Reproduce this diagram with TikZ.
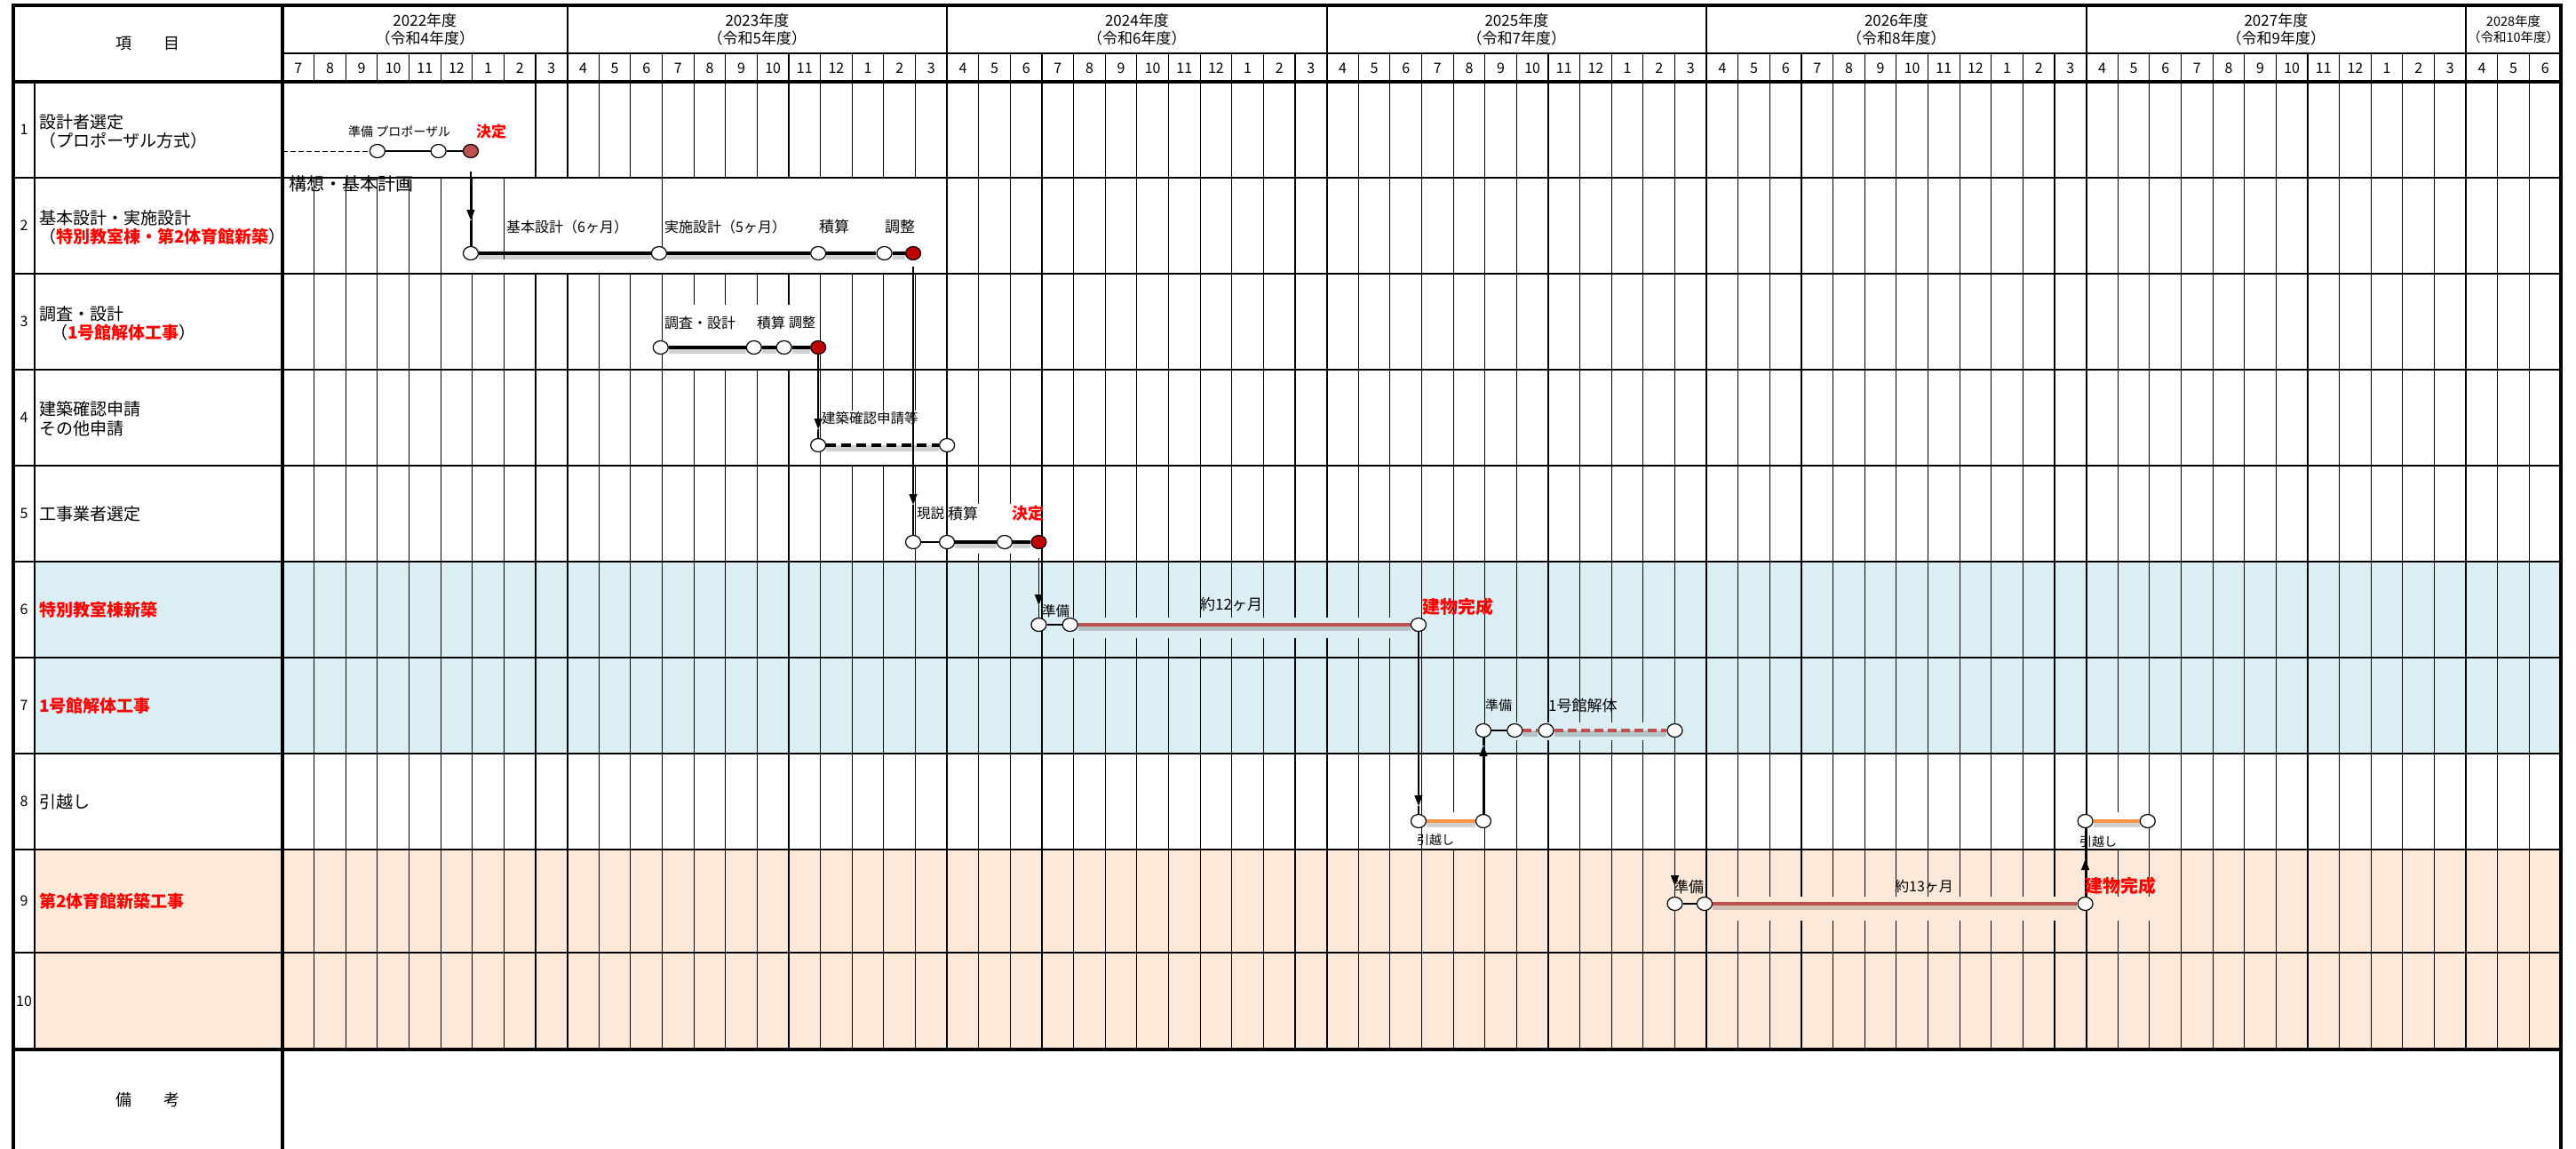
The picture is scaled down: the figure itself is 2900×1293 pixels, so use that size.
\documentclass[tikz,border=0pt]{standalone}
\usepackage{fontspec}
\setmainfont{Noto Sans CJK JP}
\usetikzlibrary{shapes.geometric,arrows.meta}
\pgfdeclarelayer{grid}
\pgfdeclarelayer{bars}
\pgfsetlayers{grid,bars,main}

\definecolor{rowblue}{HTML}{DAEEF3}
\definecolor{rowpeach}{HTML}{FCE9DA}
\definecolor{barred}{HTML}{C0504D}
\definecolor{dotred}{HTML}{C00000}
\definecolor{moveorange}{HTML}{F79646}
\definecolor{textred}{HTML}{FF0000}

% x position of month m, counted from the start of July 2022
\newcommand{\monthx}[1]{318+35.625*(#1)}
\newcommand{\fsz}[1]{\fontsize{#1}{#1}\selectfont}
\newcommand{\hl}[1]{{\color{textred}\bfseries #1}}

\tikzset{
  monthline/.style={line width=1.1pt},
  yearline/.style={line width=2.2pt},
  rowline/.style={line width=1.1pt},
  boldrule/.style={line width=3.5pt},
  midrule/.style={line width=2.6pt},
  ms/.style={ellipse, draw=black, line width=1.2pt, fill=white,
    minimum width=17pt, minimum height=15pt, inner sep=0pt},
  msred/.style={ms, fill=dotred},
  msbrown/.style={ms, fill=barred},
  lbl/.style={anchor=west, inner sep=0pt, font=\fsz{#1}},
  lbl/.default=16,
  redlbl/.style={anchor=west, inner sep=0pt, text=textred, font=\fsz{#1}\bfseries},
  redlbl/.default=20,
  rowlbl/.style={anchor=west, inner sep=0pt, align=left, font=\fontsize{19}{21.5}\selectfont},
  numlbl/.style={inner sep=0pt, font=\fsz{16}},
  monthlbl/.style={inner sep=0pt, font=\fsz{16}},
  yearlbl/.style={inner sep=0pt, align=center, font=\fontsize{17}{20}\selectfont},
  barshadow/.style={preaction={draw=black, draw opacity=0.18, line width=7pt,
    transform canvas={yshift=-3pt}}},
  thinbar/.style={line width=1.3pt},
  blackbar/.style={barshadow, line width=3.6pt},
  blackdash/.style={blackbar, dash pattern=on 11pt off 6pt},
  redbar/.style={barshadow, line width=4pt, draw=barred},
  reddash/.style={redbar, dash pattern=on 10pt off 5pt},
  orangebar/.style={barshadow, line width=4.5pt, draw=moveorange},
  arrowline/.style={line width=1.4pt, -{Triangle[length=12pt,width=9pt]}},
  plainline/.style={line width=1.4pt},
}

\begin{document}
\begin{tikzpicture}[x=1pt,y=-1pt]
\useasboundingbox (0,0) rectangle (2900,1293);

\begin{pgfonlayer}{grid}
  \fill[white] (0,0) rectangle (2900,1293);
  \fill[rowblue] (39,632) rectangle (2883,848);
  \fill[rowpeach] (39,956) rectangle (2883,1181);
  % month columns
  \foreach \m in {1,...,71}
    \draw[monthline] ({\monthx{\m}},60) -- ({\monthx{\m}},1181);
  % fiscal year boundaries
  \foreach \m in {9,21,33,45,57,69}
    \draw[yearline] ({\monthx{\m}},6) -- ({\monthx{\m}},1181);
  % row rules
  \draw[rowline] (318,60) -- (2883,60);
  \foreach \y in {200,308,416,524,632,740,848}
    \draw[rowline] (15,\y) -- (2883,\y);
  \draw[rowline] (39,92) -- (39,1181);

  % blank areas behind the schedule labels
  \fill[white] (320,94) rectangle (598,199);
  \fill[white] (568,201) rectangle (742,307);
  \fill[white] (748,201) rectangle (1062,307);
  \fill[white] (531,292) rectangle (1031,307);
  \fill[white] (748,343) rectangle (918,415);
  \fill[white] (925,462) rectangle (1062,523);
  \fill[white] (1068,567) rectangle (1166,623);
  \fill[rowblue] (1208,695) rectangle (1594,718);
  \fill[rowblue] (1706,813) rectangle (1880,833);
  \fill[white] (1603,914) rectangle (1666,955);
  \fill[white] (2353,914) rectangle (2418,955);
  \fill[rowpeach] (1925,1009) rectangle (2345,1036);
  \fill[rowpeach] (2353,1009) rectangle (2425,1036);

  % heavy frame
  \draw[boldrule] (15,6) -- (2883,6);
  \draw[boldrule] (15,92) -- (2883,92);
  \draw[midrule] (15,956) -- (2883,956);
  \draw[midrule] (15,1072) -- (2883,1072);
  \draw[boldrule] (15,1181) -- (2883,1181);
  \draw[boldrule] (15,4.25) -- (15,1293);
  \draw[boldrule] (318,4.25) -- (318,1293);
  \draw[boldrule] (2883,4.25) -- (2883,1293);
\end{pgfonlayer}

% ---------- header ----------
\node[font=\fsz{18}] (hitem) at (166,49) {項　　目};
\foreach \a/\b/\yr/\rw in {0/9/2022/4,9/21/2023/5,21/33/2024/6,33/45/2025/7,45/57/2026/8,57/69/2027/9}
  \node[yearlbl] (y\yr) at ({\monthx{(\a+\b)/2}},33) {\yr{}年度\\（令和\rw{}年度）};
\node[yearlbl, font=\fontsize{14.5}{18}\selectfont] (y2028) at ({\monthx{70.5}},33) {2028年度\\（令和10年度）};
\foreach \m in {0,...,71} {
  \pgfmathtruncatemacro{\lab}{mod(\m+6,12)+1}
  \node[monthlbl] (mo\m) at ({\monthx{\m+0.5}},77) {\lab};
}

% ---------- item column ----------
\foreach \n/\y in {1/146,2/254,3/362,4/470,5/578,6/686,7/794,8/902,9/1014,10/1127}
  \node[numlbl] (no\n) at (27,\y) {\n};
\node[rowlbl] (it1) at (44,148) {設計者選定\\（プロポーザル方式）};
\node[rowlbl] (it2) at (44,256) {基本設計・実施設計\\（\hl{特別教室棟・第2体育館新築}）};
\node[rowlbl] (it3) at (44,364) {調査・設計\\\hspace*{13pt}（\hl{1号館解体工事}）};
\node[rowlbl] (it4) at (44,471) {建築確認申請\\その他申請};
\node[rowlbl] (it5) at (44,578) {工事業者選定};
\node[rowlbl] (it6) at (44,686) {\hl{特別教室棟新築}};
\node[rowlbl] (it7) at (44,794) {\hl{1号館解体工事}};
\node[rowlbl] (it8) at (44,902) {引越し};
\node[rowlbl] (it9) at (44,1014) {\hl{第2体育館新築工事}};
\node[font=\fsz{18}] (remarks) at (166,1238) {備　　考};

% ---------- milestones ----------
\coordinate (r1s) at (318,170);
\node[ms] (r1a) at ({\monthx{3}},170) {};
\node[ms] (r1b) at ({\monthx{4.93}},170) {};
\node[msbrown] (r1c) at ({\monthx{5.95}},170) {};

\node[ms] (r2a) at ({\monthx{5.95}},285) {};
\node[ms] (r2b) at ({\monthx{11.9}},285) {};
\node[ms] (r2c) at ({\monthx{16.93}},285) {};
\node[ms] (r2d) at ({\monthx{19.02}},285) {};
\node[msred] (r2e) at ({\monthx{19.93}},285) {};

\node[ms] (r3a) at ({\monthx{11.95}},391) {};
\node[ms] (r3b) at ({\monthx{14.9}},391) {};
\node[ms] (r3c) at ({\monthx{15.85}},391) {};
\node[msred] (r3d) at ({\monthx{16.93}},391) {};

\node[ms] (r4a) at ({\monthx{16.93}},501) {};
\node[ms] (r4b) at ({\monthx{21}},501) {};

\node[ms] (r5a) at ({\monthx{19.93}},610) {};
\node[ms] (r5b) at ({\monthx{21}},610) {};
\node[ms] (r5c) at ({\monthx{22.82}},610) {};
\node[msred] (r5d) at ({\monthx{23.9}},610) {};

\node[ms] (r6a) at ({\monthx{23.9}},703) {};
\node[ms] (r6b) at ({\monthx{24.89}},703) {};
\node[ms] (r6c) at ({\monthx{35.9}},703) {};

\node[ms] (r7a) at ({\monthx{37.95}},822) {};
\node[ms] (r7b) at ({\monthx{38.94}},822) {};
\node[ms] (r7c) at ({\monthx{39.93}},822) {};
\node[ms] (r7d) at ({\monthx{44}},822) {};

\node[ms] (r8a) at ({\monthx{35.9}},924) {};
\node[ms] (r8b) at ({\monthx{37.95}},924) {};
\node[ms] (r8c) at ({\monthx{56.97}},924) {};
\node[ms] (r8d) at ({\monthx{58.94}},924) {};

\node[ms] (r9a) at ({\monthx{44}},1017) {};
\node[ms] (r9b) at ({\monthx{44.94}},1017) {};
\node[ms] (r9c) at ({\monthx{56.97}},1017) {};

% ---------- schedule labels ----------
\node[lbl=14] (t1a) at (392,148) {準備 プロポーザル};
\node[redlbl=17] (t1b) at (536,148) {決定};
\node[lbl=20] (t2z) at (325,207) {構想・基本計画};
\node[lbl=16] (t2a) at (570,255) {基本設計（6ヶ月）};
\node[lbl=16] (t2b) at (748,255) {実施設計（5ヶ月）};
\node[lbl=17] (t2c) at (922,255) {積算};
\node[lbl=17] (t2d) at (996,255) {調整};
\node[lbl=16] (t3a) at (748,363) {調査・設計};
\node[lbl=16] (t3b) at (852,363) {積算};
\node[lbl=15] (t3c) at (888,363) {調整};
\node[lbl=15.5] (t4a) at (925,471) {建築確認申請等};
\node[lbl=15.5] (t5a) at (1032,578) {現説};
\node[lbl=17] (t5b) at (1067,578) {積算};
\node[redlbl=18] (t5c) at (1139,578) {決定};
\node[lbl=15.5] (t6a) at (1173,688) {準備};
\node[lbl=17] (t6b) at (1351,680) {約12ヶ月};
\node[redlbl=20] (t6c) at (1601,683) {建物完成};
\node[lbl=15] (t7a) at (1672,794) {準備};
\node[lbl=17] (t7b) at (1743,794) {1号館解体};
\node[lbl=14] (t8a) at (1595,945) {引越し};
\node[lbl=14] (t8b) at (2341,947) {引越し};
\node[lbl=17] (t9a) at (1884,998) {準備};
\node[lbl=16] (t9b) at (2133,997) {約13ヶ月};
\node[redlbl=20] (t9c) at (2347,997) {建物完成};

% ---------- bars and arrows ----------
\coordinate (a1s) at ({\monthx{5.95}},193);
\coordinate (a1t) at ({\monthx{5.95}},248);
\coordinate (a2s) at ({\monthx{19.93}},300);
\coordinate (a2t) at ({\monthx{19.93}},568);
\coordinate (a3t) at ({\monthx{16.93}},483);
\coordinate (a4s) at ({\monthx{23.9}},628);
\coordinate (a4t) at ({\monthx{23.9}},681);
\coordinate (a5t) at ({\monthx{35.9}},907);
\coordinate (a6t) at ({\monthx{37.95}},839);
\coordinate (a7t) at ({\monthx{44}},997);
\coordinate (a8t) at ({\monthx{56.97}},967);

\begin{pgfonlayer}{bars}
  % design selection
  \draw[line width=1pt, dash pattern=on 5.5pt off 3.5pt] (r1s) -- (r1a);
  \draw[thinbar] (r1a) -- (r1b);
  \draw[thinbar] (r1b) -- (r1c);
  % basic and detailed design
  \draw[blackbar] (r2a) -- (r2b);
  \draw[blackbar] (r2b) -- (r2c);
  \draw[blackbar] (r2c) -- (r2d);
  \draw[blackbar] (r2d) -- (r2e);
  % survey and design
  \draw[blackbar] (r3a) -- (r3b);
  \draw[blackbar] (r3b) -- (r3c);
  \draw[blackbar] (r3c) -- (r3d);
  % building confirmation
  \draw[blackdash] (r4a) -- (r4b);
  % contractor selection
  \draw[thinbar] (r5a) -- (r5b);
  \draw[blackbar] (r5b) -- (r5c);
  \draw[blackbar] (r5c) -- (r5d);
  % new special classroom building
  \draw[thinbar] (r6a) -- (r6b);
  \draw[redbar] (r6b) -- (r6c);
  % demolition of building 1
  \draw[thinbar] (r7a) -- (r7b);
  \draw[reddash] (r7b) -- (r7c);
  \draw[reddash] (r7c) -- (r7d);
  % moving
  \draw[orangebar] (r8a) -- (r8b);
  \draw[orangebar] (r8c) -- (r8d);
  % new gymnasium
  \draw[thinbar] (r9a) -- (r9b);
  \draw[redbar] (r9b) -- (r9c);

  % dependencies
  \draw[arrowline] (a1s) -- (a1t);
  \draw[plainline] (a1t) -- (r2a);
  \draw[arrowline] (a2s) -- (a2t);
  \draw[plainline] (a2t) -- (r5a);
  \draw[arrowline] (r3d) -- (a3t);
  \draw[plainline] (a3t) -- (r4a);
  \draw[arrowline] (a4s) -- (a4t);
  \draw[plainline] (a4t) -- (r6a);
  \draw[arrowline] (r6c) -- (a5t);
  \draw[plainline] (a5t) -- (r8a);
  \draw[arrowline] (r8b) -- (a6t);
  \draw[plainline] (a6t) -- (r7a);
  \draw[arrowline] (r7d) -- (a7t);
  \draw[plainline] (a7t) -- (r9a);
  \draw[arrowline] (r9c) -- (a8t);
  \draw[plainline] (a8t) -- (r8c);
\end{pgfonlayer}
\end{tikzpicture}
\end{document}
